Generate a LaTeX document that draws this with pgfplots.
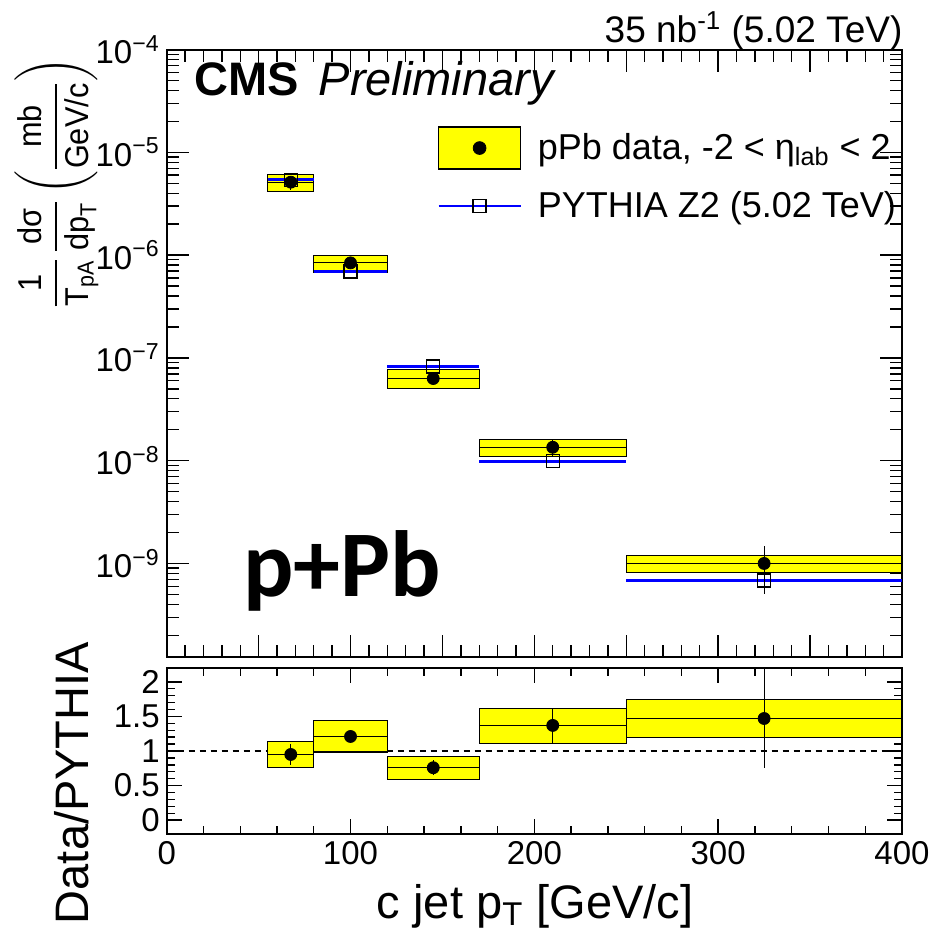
\documentclass[border=0pt]{standalone}
\usepackage{amsmath}
\usepackage{fontspec}
\setmainfont{Liberation Sans}
\newfontfamily\carlito{Carlito}
\usepackage{pgfplots}
\usepackage{pgfplotstable}
\pgfplotsset{compat=1.18}

\definecolor{rootyellow}{rgb}{1,1,0}
\definecolor{rootblue}{rgb}{0,0,1}

% spectrum: bin centre, half width, data, stat errors, PYTHIA
\pgfplotstableread{
x     ex   y       eyp     eym     th
67.5  12.5 5.12e-6 0.82e-6 0.82e-6 5.39e-6
100   20   8.4e-7  0.7e-7  0.7e-7  6.92e-7
145   25   6.3e-8  0.82e-8 0.82e-8 8.24e-8
210   40   1.35e-8 0.25e-8 0.25e-8 9.89e-9
325   75   1.0e-9  0.49e-9 0.49e-9 6.84e-10
}\spectab

% data / PYTHIA
\pgfplotstableread{
x     ex   y     eyp   eym
67.5  12.5 0.95  0.155 0.155
100   20   1.21  0.10  0.10
145   25   0.758 0.105 0.105
210   40   1.37  0.255 0.255
325   75   1.47  0.75  0.72
}\ratiotab

\pgfplotsset{
  rootstyle/.style={
    scale only axis, width=367.65pt, xmin=0, xmax=400,
    clip mode=individual,
    axis line style={line width=1pt},
    every tick/.style={black, line width=0.7pt},
    tick label style={font=\fontsize{16.5}{19}\selectfont},
    label style={font=\fontsize{23.5}{27}\selectfont},
    /pgf/number format/assume math mode=true,
  },
  databars/.style={forget plot, only marks, mark=*, mark size=3pt, black,
    error bars/.cd, x dir=both, x explicit, y dir=both, y explicit,
    error mark=none, error bar style={black, line width=0.6pt}},
  sysbox/.style={forget plot, fill=rootyellow, draw=black, line width=0.6pt},
}

\begin{document}
\begin{tikzpicture}
\useasboundingbox (-83.35pt,-142.5pt) rectangle (384.15pt,328.5pt);

\begin{axis}[rootstyle, at={(0,0)}, anchor=south west, height=303.75pt,
  ymode=log, ymin=1.23e-10, ymax=1e-4,
  xtick={0,50,...,400}, minor x tick num=4, xticklabel=\empty,
  ytick={1e-10,1e-9,1e-8,1e-7,1e-6,1e-5,1e-4},
  yticklabel={\pgfmathtruncatemacro{\myexp}{round(abs(\tick)/ln(10))}10\textsuperscript{−\myexp}},
  major tick length=11pt, minor tick length=6pt,
  ylabel={\scalebox{0.93}[1]{$\dfrac{\text{1}}{\text{T}_{\text{pA}}}\,\dfrac{\text{dσ}}{\text{dp}_{\text{T}}}\left(\dfrac{\text{mb}}{\text{GeV/c}}\right)$}},
  ylabel style={at={(axis description cs:-0.150,0.78)}, anchor=center, inner sep=0pt,
    font=\fontsize{16.5}{19}\selectfont},
  legend style={at={(rel axis cs:0.3676,0.874)}, anchor=north west, draw=none, fill=none,
    inner sep=0pt, row sep=9pt, font=\fontsize{18}{21}\selectfont, cells={anchor=west},
    /tikz/every odd column/.append style={column sep=6pt}},
]
\addplot[sysbox] coordinates {(55,4.13e-6) (80,4.13e-6) (80,6.12e-6) (55,6.12e-6)} -- cycle;
\addplot[sysbox] coordinates {(80,6.82e-7) (120,6.82e-7) (120,9.98e-7) (80,9.98e-7)} -- cycle;
\addplot[sysbox] coordinates {(120,5.0e-8) (170,5.0e-8) (170,7.7e-8) (120,7.7e-8)} -- cycle;
\addplot[sysbox] coordinates {(170,1.09e-8) (250,1.09e-8) (250,1.6e-8) (170,1.6e-8)} -- cycle;
\addplot[sysbox] coordinates {(250,8.1e-10) (400,8.1e-10) (400,1.2e-9) (250,1.2e-9)} -- cycle;

\addplot[forget plot, only marks, mark=square, mark size=3.25pt,
  mark options={black, line width=0.6pt},
  error bars/.cd, x dir=both, x explicit, error mark=none,
  error bar style={rootblue, line width=1.5pt}]
  table[x=x, y=th, x error=ex] {\spectab};

\addplot[databars] table[x=x, y=y, x error=ex, y error plus=eyp, y error minus=eym] {\spectab};

\addlegendimage{legend image code/.code={
  \draw[black, fill=rootyellow, line width=0.6pt] (0pt,-10.5pt) rectangle (41pt,10.5pt);
  \fill[black] (20.5pt,0pt) circle (3.2pt);}}
\addlegendentry{pPb data, -2 < η\textsubscript{lab} < 2}
\addlegendimage{legend image code/.code={
  \draw[rootblue, line width=1.2pt] (0pt,0pt) -- (41pt,0pt);
  \draw[black, line width=0.6pt] (17.25pt,-3.25pt) rectangle (23.75pt,3.25pt);}}
\addlegendentry{PYTHIA Z2 (5.02 TeV)}

\node[anchor=base east, inner sep=0pt, font=\fontsize{18.5}{21}\selectfont]
  at (rel axis cs:1.001,1.0123) {35 nb\textsuperscript{-1} (5.02 TeV)};
\node[anchor=base west, inner sep=0pt, font=\fontsize{23.5}{27}\selectfont]
  at (rel axis cs:0.037,0.925) {\bfseries CMS\hspace{10pt}\mdseries\itshape Preliminary};
\node[anchor=base west, inner sep=0pt, font=\carlito\bfseries\fontsize{47}{50}\selectfont]
  at (rel axis cs:0.1038,0.0988) {p+Pb};
\end{axis}

\begin{axis}[rootstyle, at={(0,-5.5pt)}, anchor=north west, height=83pt,
  ymin=-0.2, ymax=2.2, ytick={0,0.5,1,1.5,2}, minor y tick num=4,
  xtick={0,100,...,400}, minor x tick num=4,
  major tick length=7.5pt, minor tick length=4pt,
  xlabel={c jet p\textsubscript{T} [GeV/c]},
  xlabel style={at={(axis description cs:0.501,-0.506)}, anchor=base},
  ylabel={Data/PYTHIA},
  ylabel style={at={(axis description cs:-0.107,0.307)}, anchor=base},
]
\addplot[forget plot, black, line width=0.6pt, dash pattern=on 3pt off 2.5pt]
  coordinates {(0,1) (400,1)};
\addplot[sysbox] coordinates {(55,0.764) (80,0.764) (80,1.14) (55,1.14)} -- cycle;
\addplot[sysbox] coordinates {(80,0.985) (120,0.985) (120,1.445) (80,1.445)} -- cycle;
\addplot[sysbox] coordinates {(120,0.59) (170,0.59) (170,0.917) (120,0.917)} -- cycle;
\addplot[sysbox] coordinates {(170,1.11) (250,1.11) (250,1.62) (170,1.62)} -- cycle;
\addplot[sysbox] coordinates {(250,1.19) (400,1.19) (400,1.75) (250,1.75)} -- cycle;

\addplot[databars] table[x=x, y=y, x error=ex, y error plus=eyp, y error minus=eym] {\ratiotab};
\end{axis}
\end{tikzpicture}
\end{document}
